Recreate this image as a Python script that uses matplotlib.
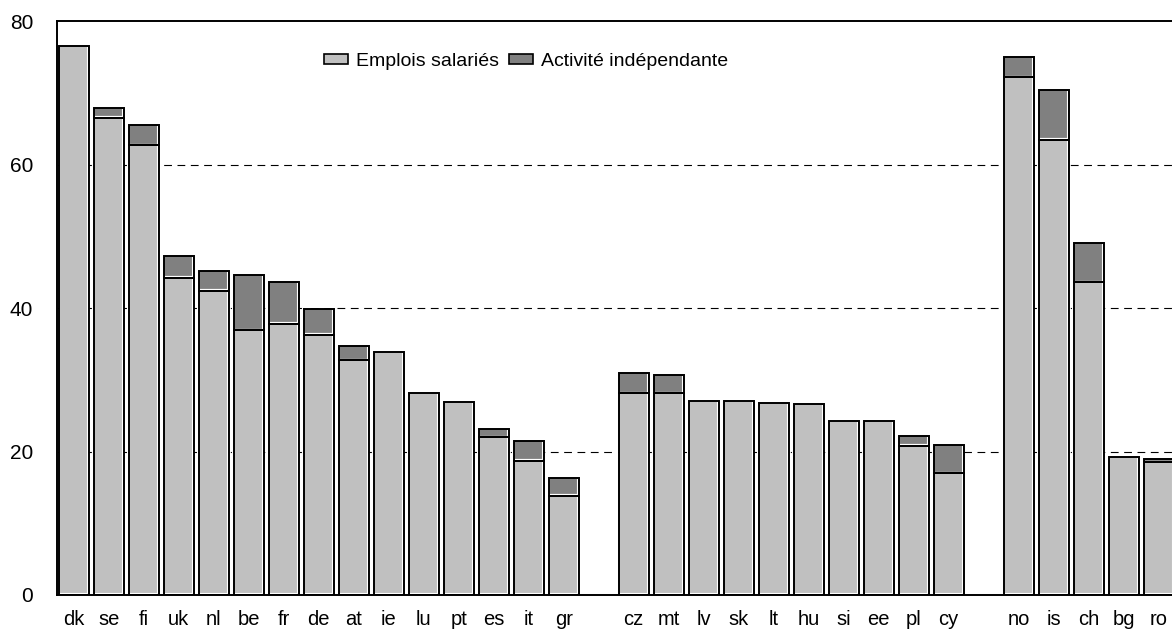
import numpy as np
import matplotlib
matplotlib.use("Agg")
import matplotlib.pyplot as plt
from matplotlib.patches import Patch
from matplotlib.transforms import ScaledTranslation

plt.rcParams['font.family'] = ['Liberation Sans', 'DejaVu Sans']

# three country groups, left to right
group1 = ['dk', 'se', 'fi', 'uk', 'nl', 'be', 'fr', 'de', 'at', 'ie', 'lu', 'pt', 'es', 'it', 'gr']
group2 = ['cz', 'mt', 'lv', 'sk', 'lt', 'hu', 'si', 'ee', 'pl', 'cy']
group3 = ['no', 'is', 'ch', 'bg', 'ro']

# Emplois salariés (bottom segment)
salaries1 = [76.6, 66.5, 62.7, 44.2, 42.4, 36.9, 37.8, 36.3, 32.7, 33.9, 28.2, 26.9, 22.0, 18.7, 13.8]
salaries2 = [28.1, 28.1, 27.1, 27.0, 26.8, 26.6, 24.3, 24.2, 20.8, 17.0]
salaries3 = [72.2, 63.5, 43.6, 19.3, 18.5]

# Activité indépendante (top segment)
indep1 = [0.0, 1.4, 2.8, 3.0, 2.8, 7.7, 5.9, 3.6, 2.0, 0.0, 0.0, 0.0, 1.2, 2.8, 2.5]
indep2 = [2.8, 2.6, 0.0, 0.0, 0.0, 0.0, 0.0, 0.0, 1.3, 3.9]
indep3 = [2.8, 6.9, 5.5, 0.0, 0.4]

labels = group1 + group2 + group3
salaries = np.array(salaries1 + salaries2 + salaries3)
indep = np.array(indep1 + indep2 + indep3)

# one empty slot between groups
x = np.concatenate([np.arange(len(group1)),
                    np.arange(len(group2)) + len(group1) + 1,
                    np.arange(len(group3)) + len(group1) + len(group2) + 2])

light = '#c0c0c0'
dark = '#808080'
width = 0.86

fig = plt.figure(figsize=(11.72, 6.39), dpi=100)
ax = fig.add_axes([0.0486, 0.0689, 0.9514, 0.898])

# fills
ax.bar(x, salaries, width, color=light, linewidth=0, zorder=2)
ax.bar(x, indep, width, bottom=salaries, color=dark, linewidth=0, zorder=2)

# white inner highlight on right / bottom of each segment
off = ScaledTranslation(-1.1 / 72, 1.1 / 72, fig.dpi_scale_trans)
for vals, bots in [(salaries, None), (indep, salaries)]:
    hl = ax.bar(x, vals, width, bottom=bots, facecolor='none', edgecolor='white',
                linewidth=0.8, zorder=2.1)
    for p, v in zip(hl, vals):
        p.set_transform(ax.transData + off)
        if v == 0:
            p.set_visible(False)

# black outlines on top
for vals, bots in [(salaries, None), (indep, salaries)]:
    ol = ax.bar(x, vals, width, bottom=bots, facecolor='none', edgecolor='black',
                linewidth=1.4, zorder=2.3)
    for p, v in zip(ol, vals):
        if v == 0:
            p.set_visible(False)

ax.set_ylim(0, 80)
ax.set_xlim(-0.48, 31.38)
ax.set_yticks([0, 20, 40, 60, 80])
ax.set_xticks(x)
ax.set_xticklabels(labels)
ax.tick_params(axis='both', length=0)
ax.tick_params(axis='y', pad=17, labelsize=15)
ax.tick_params(axis='x', pad=11, labelsize=14.5)

for y in [20, 40, 60]:
    ax.axhline(y, color='black', linewidth=0.8, linestyle=(0, (7, 5)), zorder=1)

ax.spines['right'].set_visible(False)
for s in ['left', 'top', 'bottom']:
    ax.spines[s].set_linewidth(1.4)
    ax.spines[s].set_zorder(3)

handles = [Patch(facecolor=light, edgecolor='black', linewidth=1.2, label='Emplois salariés'),
           Patch(facecolor=dark, edgecolor='black', linewidth=1.2, label='Activité indépendante')]
ax.legend(handles=handles, loc='upper center', bbox_to_anchor=(0.421, 0.975), ncol=2,
          frameon=False, fontsize=14, handlelength=1.2, handleheight=0.45,
          handletextpad=0.45, columnspacing=0.5)

fig.savefig('out.png', dpi=100)
